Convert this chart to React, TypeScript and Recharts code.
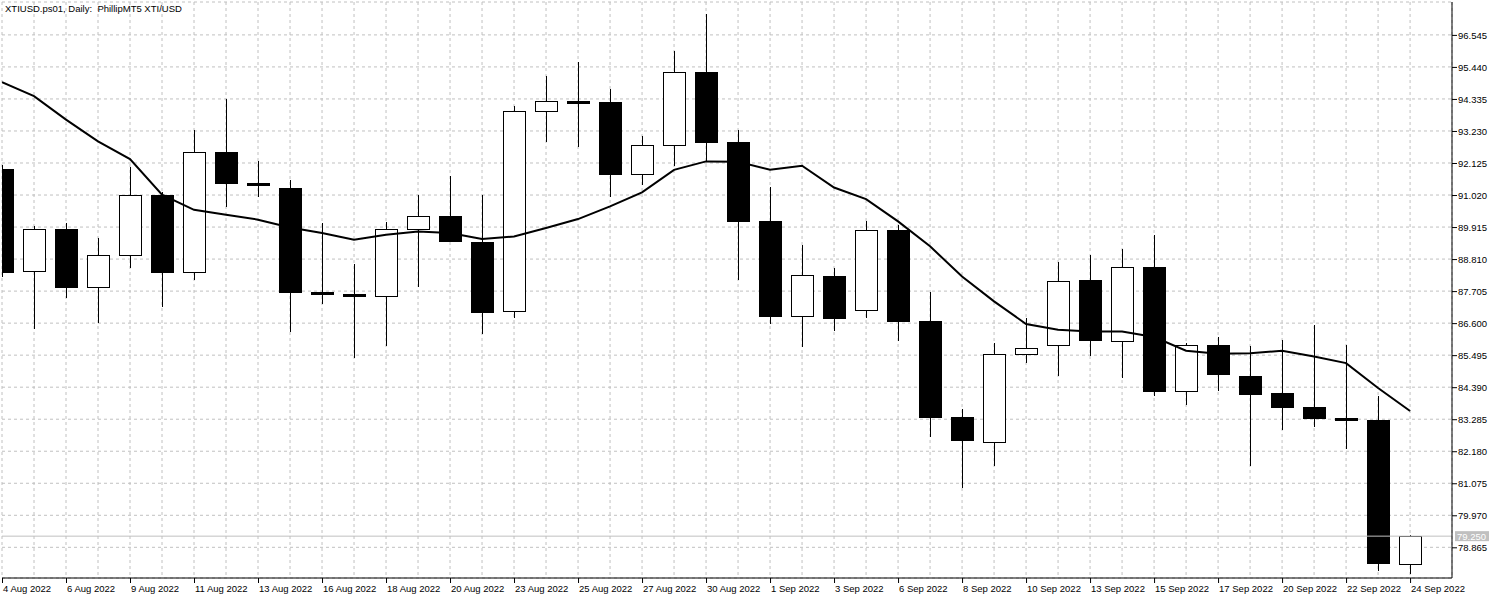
import React from 'react';
import { ComposedChart, Bar, Line, XAxis, YAxis, CartesianGrid, ReferenceLine } from 'recharts';

const dates = [
  '4 Aug 2022', '5 Aug 2022', '6 Aug 2022', '8 Aug 2022', '9 Aug 2022', '10 Aug 2022', '11 Aug 2022',
  '12 Aug 2022', '13 Aug 2022', '15 Aug 2022', '16 Aug 2022', '17 Aug 2022', '18 Aug 2022', '19 Aug 2022',
  '20 Aug 2022', '22 Aug 2022', '23 Aug 2022', '24 Aug 2022', '25 Aug 2022', '26 Aug 2022', '27 Aug 2022',
  '29 Aug 2022', '30 Aug 2022', '31 Aug 2022', '1 Sep 2022', '2 Sep 2022', '3 Sep 2022', '5 Sep 2022',
  '6 Sep 2022', '7 Sep 2022', '8 Sep 2022', '9 Sep 2022', '10 Sep 2022', '12 Sep 2022', '13 Sep 2022',
  '14 Sep 2022', '15 Sep 2022', '16 Sep 2022', '17 Sep 2022', '19 Sep 2022', '20 Sep 2022', '21 Sep 2022',
  '22 Sep 2022', '23 Sep 2022', '24 Sep 2022',
];

const opens = [
  91.93, 88.40, 89.85, 87.84, 88.95, 91.03, 88.36, 92.52, 91.44, 91.27, 87.69, 87.62, 87.55, 89.85, 90.31,
  89.41, 87.01, 93.92, 94.26, 94.24, 91.75, 92.75, 95.28, 92.86, 90.13, 86.84, 88.23, 87.07, 89.82, 86.68,
  83.37, 82.49, 85.53, 85.84, 88.09, 85.98, 88.53, 84.25, 85.84, 84.78, 84.19, 83.71, 83.33, 83.26, 78.28,
];
const highs = [
  92.05, 89.94, 90.05, 89.54, 91.99, 91.11, 93.28, 94.34, 92.20, 91.55, 90.05, 88.65, 90.10, 91.01, 91.66,
  91.01, 94.10, 95.11, 95.62, 94.69, 93.04, 95.98, 97.28, 93.28, 91.30, 89.30, 88.49, 90.13, 89.97, 87.68,
  83.64, 85.92, 86.77, 88.72, 88.95, 89.17, 89.65, 85.93, 86.12, 85.82, 86.03, 86.54, 85.85, 84.09, 79.29,
];
const lows = [
  88.20, 86.39, 87.48, 86.60, 88.50, 87.17, 88.10, 90.59, 90.94, 86.29, 87.27, 85.39, 85.82, 87.86, 89.40,
  86.23, 86.79, 92.86, 92.66, 90.95, 91.35, 92.01, 92.18, 88.10, 86.57, 85.76, 86.33, 86.79, 85.97, 82.67,
  80.92, 81.67, 85.24, 84.79, 85.45, 84.69, 84.10, 83.79, 84.27, 81.68, 82.92, 83.03, 82.27, 78.05, 77.95,
];
const closes = [
  88.38, 89.85, 87.86, 88.95, 91.02, 88.35, 92.51, 91.42, 91.40, 87.66, 87.65, 87.58, 89.85, 90.31, 89.42,
  87.00, 93.92, 94.27, 94.24, 91.73, 92.75, 95.28, 92.84, 90.11, 86.83, 88.26, 86.76, 89.82, 86.68, 83.37,
  82.58, 85.53, 85.74, 88.05, 86.03, 88.53, 84.27, 85.84, 84.86, 84.17, 83.69, 83.34, 83.31, 78.31, 79.25,
];
const movingAverage = [
  94.91, 94.43, 93.62, 92.87, 92.26, 91.03, 90.51, 90.34, 90.17, 89.90, 89.71, 89.48, 89.65, 89.76, 89.71,
  89.50, 89.59, 89.88, 90.19, 90.63, 91.11, 91.89, 92.18, 92.17, 91.89, 92.03, 91.28, 90.88, 90.11, 89.25,
  88.21, 87.35, 86.57, 86.37, 86.31, 86.31, 86.12, 85.65, 85.54, 85.56, 85.65, 85.45, 85.22, 84.36, 83.57,
];

const priceTicks = [
  78.865, 79.97, 81.075, 82.18, 83.285, 84.39, 85.495, 86.6, 87.705, 88.81, 89.915, 91.02, 92.125,
  93.23, 94.335, 95.44, 96.545,
];
const lastPrice = 79.25;

const data = dates.map((d, i) => ({
  i,
  date: d,
  open: opens[i],
  high: highs[i],
  low: lows[i],
  close: closes[i],
  range: [lows[i], highs[i]],
  ma: movingAverage[i],
}));

const FONT = "'Liberation Sans', Arial, sans-serif";
const GRID = '#c0c0c0';

const renderCandle = (props: any) => {
  const { x, y, width, height, payload } = props;
  if (x == null || y == null) return <g />;
  const top = Math.min(y, y + height);
  const h = Math.abs(height);
  const { open, close, high, low } = payload;
  const cx = Math.round(x + width / 2);
  const pix = (v: number) => top + ((high - v) / (high - low)) * h;
  const bTop = Math.round(pix(Math.max(open, close)));
  const bBot = Math.round(pix(Math.min(open, close)));
  const up = close >= open;
  return (
    <g shapeRendering="crispEdges">
      <line x1={cx + 0.5} x2={cx + 0.5} y1={top} y2={top + h} stroke="#000" strokeWidth={1} />
      <rect
        x={cx - 10.5}
        y={bTop + 0.5}
        width={22}
        height={Math.max(bBot - bTop, 2)}
        fill={up ? '#fff' : '#000'}
        stroke="#000"
        strokeWidth={1}
      />
    </g>
  );
};

const DateTick = (props: any) => {
  const { x, y, payload } = props;
  const i = payload.value;
  if (i % 2 !== 0) return <g />;
  return (
    <g>
      <line x1={x + 0.5} x2={x + 0.5} y1={y} y2={y + 5} stroke="#000" />
      <text x={x + 1} y={y + 14} fontSize={9.5} fontFamily={FONT} fill="#000" textAnchor="start">
        {dates[i]}
      </text>
    </g>
  );
};

const PriceTick = (props: any) => {
  const { x, y, payload } = props;
  return (
    <g>
      <line x1={x} x2={x + 5} y1={y + 0.5} y2={y + 0.5} stroke="#000" />
      <text x={x + 6} y={y + 4} fontSize={9.5} fontFamily={FONT} fill="#000" textAnchor="start">
        {payload.value.toFixed(3)}
      </text>
    </g>
  );
};

const BidLabel = (props: any) => {
  const vb = props.viewBox || {};
  const x = vb.x + vb.width + 3;
  const y = vb.y;
  return (
    <g>
      <rect x={x} y={y - 5} width={34} height={10} fill={GRID} />
      <text x={x + 2} y={y + 3.5} fontSize={9.5} fontFamily={FONT} fill="#fff">
        {lastPrice.toFixed(3)}
      </text>
    </g>
  );
};

export default function App() {
  return (
    <div style={{ position: 'absolute', left: 0, top: 0, width: 1500, height: 600, background: '#fff' }}>
      <ComposedChart
        width={1500}
        height={600}
        data={data}
        margin={{ top: 2, right: 0, bottom: 0, left: 2 }}
      >
        <CartesianGrid stroke={GRID} strokeDasharray="3 3" />
        <XAxis
          dataKey="i"
          type="number"
          domain={[0, 45.31]}
          ticks={data.map((d) => d.i)}
          interval={0}
          allowDataOverflow
          height={22}
          tickSize={0}
          tickMargin={0}
          tickLine={false}
          axisLine={{ stroke: '#000' }}
          tick={<DateTick />}
        />
        <XAxis xAxisId="frame" orientation="top" height={0} tick={false} tickLine={false} axisLine={{ stroke: '#000' }} />
        <YAxis
          orientation="right"
          domain={[77.806, 97.68]}
          ticks={priceTicks}
          interval={0}
          allowDataOverflow
          width={48}
          tickSize={0}
          tickMargin={0}
          tickLine={false}
          axisLine={{ stroke: '#000' }}
          tick={<PriceTick />}
        />
        <YAxis yAxisId="frame" orientation="left" width={0} tick={false} tickLine={false} axisLine={{ stroke: '#000' }} />
        <ReferenceLine y={lastPrice} stroke={GRID} strokeWidth={1} label={<BidLabel />} />
        <Bar dataKey="range" barSize={22} shape={renderCandle} isAnimationActive={false} />
        <Line
          dataKey="ma"
          type="linear"
          stroke="#000"
          strokeWidth={2}
          dot={false}
          activeDot={false}
          isAnimationActive={false}
        />
      </ComposedChart>
      <div
        style={{
          position: 'absolute',
          left: 5,
          top: 3,
          fontFamily: FONT,
          fontSize: 9.5,
          lineHeight: '12px',
          color: '#000',
          whiteSpace: 'pre',
        }}
      >
        {'XTIUSD.ps01, Daily:  PhillipMT5 XTI/USD'}
      </div>
    </div>
  );
}
